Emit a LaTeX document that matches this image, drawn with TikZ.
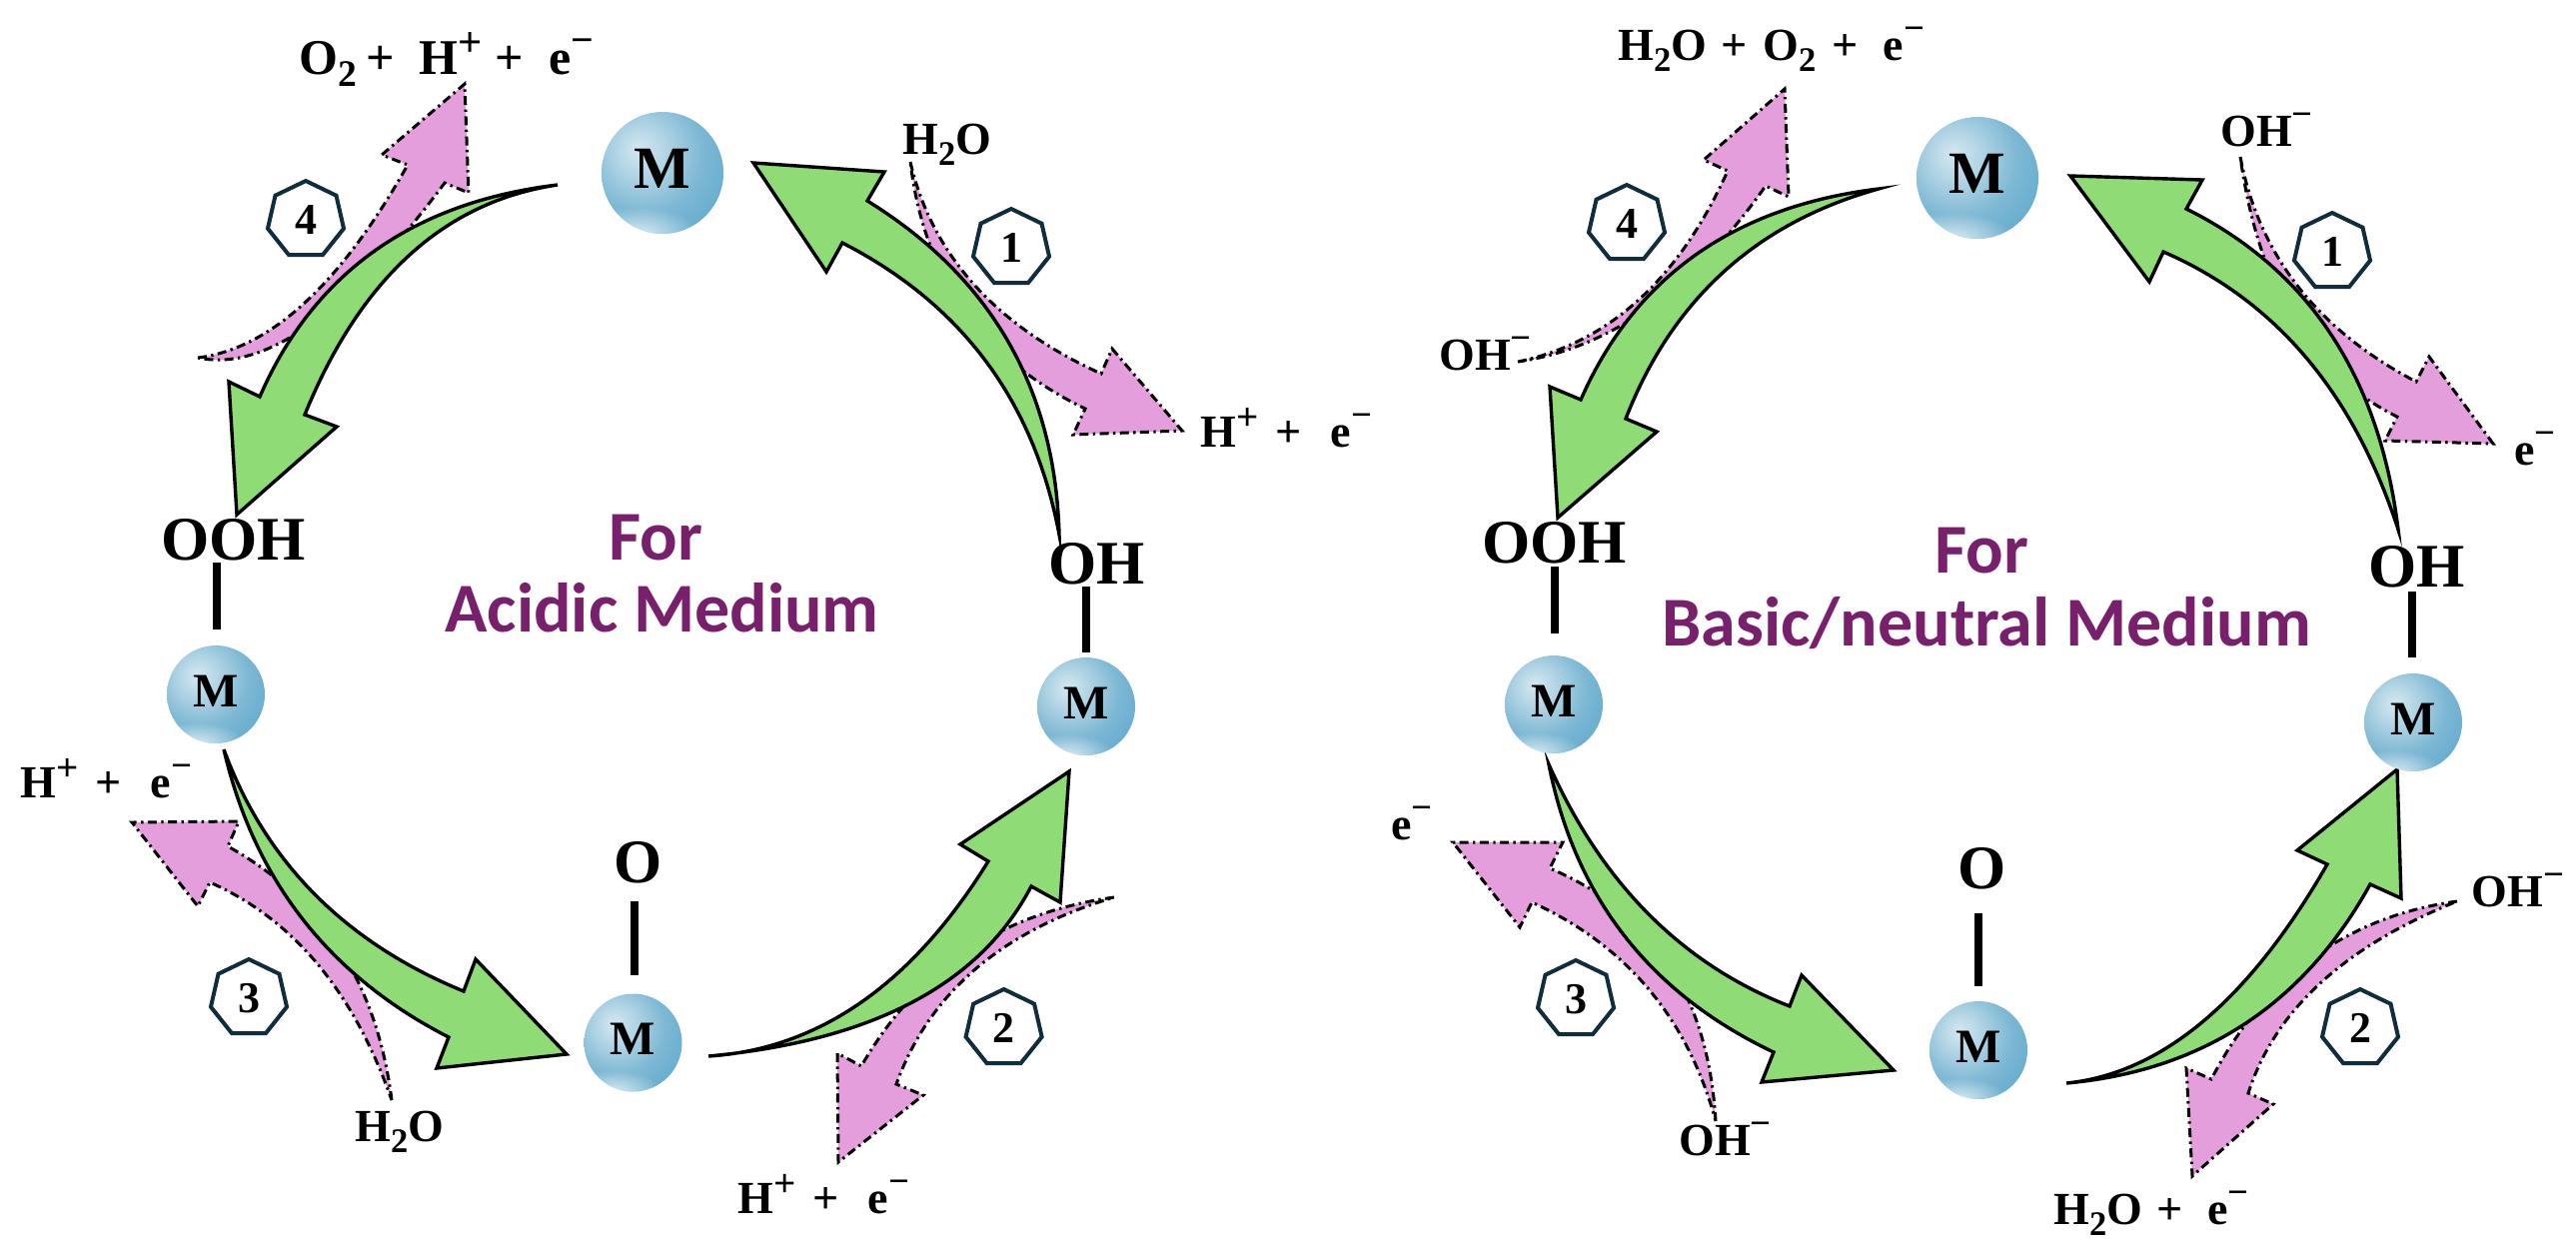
\documentclass[tikz,border=0pt]{standalone}
\usepackage{fontspec}
\setmainfont{Liberation Serif}
\newfontfamily\titlefont{Carlito}
\usetikzlibrary{shapes.geometric,calc,fadings}
\definecolor{greenfill}{HTML}{8FDB75}
\definecolor{pinkfill}{HTML}{E39EDB}
\definecolor{heptline}{HTML}{0F2D3C}
\definecolor{titlecol}{HTML}{78206B}
\definecolor{ballA}{HTML}{D5E8F2}
\definecolor{ballB}{HTML}{AFD3E4}
\definecolor{ballC}{HTML}{7DB8D4}
\definecolor{ballD}{HTML}{62AACD}
\definecolor{ballE}{HTML}{4298C2}
\pgfdeclareradialshading{mballsh}{\pgfpoint{-10bp}{10bp}}{color(0bp)=(ballA);color(11bp)=(ballB);color(24bp)=(ballC);color(38bp)=(ballD);color(50bp)=(ballE);color(100bp)=(ballE)}
\tikzfading[name=rimfade,inner color=transparent!25,outer color=transparent!100]
\newcommand{\upp}[1]{\raisebox{.36em}{\scalebox{.85}{#1}}}
\newcommand{\dwn}[1]{\raisebox{-.25em}{\scalebox{.75}{#1}}}
\newcommand{\mns}{\raisebox{.42em}{\scalebox{.8}{−}}}
% curve from A through M to B (a parabola written as a Bezier)
\newcommand{\qto}[3]{.. controls ($1.3333*(#2)-0.3333*(#3)$) and ($1.3333*(#2)-0.3333*(#1)$) .. (#3)}
\tikzset{
  greenarrow/.style={fill=greenfill,draw=black,line width=1.7pt,line join=miter,miter limit=14},
  pinkarrow/.style={fill=pinkfill,draw=black,line width=1.5pt,line join=miter,miter limit=14,dash pattern=on 4.5pt off 2.2pt on 1.2pt off 2.2pt},
  hept/.style={regular polygon,regular polygon sides=7,minimum size=39pt,inner sep=0pt,draw=heptline,line width=2pt,font=\bfseries\fontsize{22}{22}\selectfont},
  ball/.style={circle,inner sep=0pt,minimum size=#1 pt,shading=mballsh,
    path picture={\coordinate (rim) at ($(path picture bounding box.south west)!.3!(path picture bounding box.south east)$);
      \fill[white,path fading=rimfade] (rim) ellipse [x radius=#1*.5pt,y radius=#1*.22pt];}},
  bigM/.style={font=\bfseries\fontsize{30}{30}\selectfont},
  smallM/.style={font=\bfseries\fontsize{24}{24}\selectfont},
  bondbar/.style={line width=4pt},
  lbl/.style={anchor=base west,inner sep=0pt,font=\bfseries\fontsize{23}{23}\selectfont},
  toplbl/.style={anchor=base west,inner sep=0pt,font=\bfseries\fontsize{25}{25}\selectfont},
  biglbl/.style={anchor=base west,inner sep=0pt,font=\bfseries\fontsize{31}{31}\selectfont},
  titletxt/.style={anchor=base west,inner sep=0pt,text=titlecol,font=\titlefont\bfseries\fontsize{35}{35}\selectfont}
}
\begin{document}
\begin{tikzpicture}[x=0.5pt,y=-0.5pt]
\useasboundingbox (0,0) rectangle (2578,1255);
% ===== LEFT: pink arrows
\filldraw[pinkarrow] (198,358) \qto{198,358}{305,303}{408,165} -- (382,155) -- (465,84) -- (469,193) -- (445,183) \qto{445,183}{310,325}{198,358} -- cycle;
\filldraw[pinkarrow] (911,162) \qto{911,162}{975,285}{1102,374} -- (1113,349) -- (1183,431) -- (1074,435) -- (1086,409) \qto{1086,409}{965,310}{911,162} -- cycle;
\filldraw[pinkarrow] (392,1101) \qto{392,1101}{340,950}{228,847} -- (239,822) -- (132,823) -- (198,907) -- (210,883) \qto{210,883}{318,965}{392,1101} -- cycle;
\filldraw[pinkarrow] (1115,898) \qto{1115,898}{967,952}{862,1067} -- (838,1054) -- (839,1163) -- (924,1096) -- (897,1085) \qto{897,1085}{976,970}{1115,898} -- cycle;
% ===== LEFT: green arrows
\filldraw[greenarrow] (558,185) \qto{558,185}{375,251}{260,397} -- (229,382) -- (237,515) -- (337,427) -- (305,415) \qto{305,415}{410,255}{558,185} -- cycle;
\filldraw[greenarrow] (868,201) \qto{868,201}{1009,342}{1060,535} \qto{1060,535}{987,362}{843,243} -- (827,272) -- (754,163) -- (885,172) -- cycle;
\filldraw[greenarrow] (224,750) \qto{224,750}{315,895}{464,992} -- (476,960) -- (567,1055) -- (437,1069) -- (449,1038) \qto{449,1038}{303,920}{224,750} -- cycle;
\filldraw[greenarrow] (709,1057) \qto{709,1057}{862,1003}{989,862} -- (961,845) -- (1070,772) -- (1061,903) -- (1032,887) \qto{1032,887}{913,1003}{709,1057} -- cycle;
% ===== LEFT: balls and bonds
\node[ball=61,bigM] (Lm1) at (663,173) {\raisebox{4pt}{M}};
\node[ball=49,smallM] (Lm2) at (1087,707) {\raisebox{3.5pt}{M}};
\node[ball=49,smallM] (Lm3) at (633.5,1043.5) {\raisebox{3.5pt}{M}};
\node[ball=49,smallM] (Lm4) at (216,695) {\raisebox{3.5pt}{M}};
\node[biglbl] (Loh) at (1049,584) {OH};
\node[biglbl] (Lo) at (614,883) {O};
\node[biglbl] (Looh) at (161,560) {OOH};
\coordinate (Lb2a) at (1086.5,587); \coordinate (Lb2b) at (1086.5,653);
\coordinate (Lb3a) at (635,902); \coordinate (Lb3b) at (635,976);
\coordinate (Lb4a) at (217,563); \coordinate (Lb4b) at (217,630);
\draw[bondbar] (Lb2a) -- (Lb2b);
\draw[bondbar] (Lb3a) -- (Lb3b);
\draw[bondbar] (Lb4a) -- (Lb4b);
% ===== LEFT: step numbers
\node[hept] (Ls1) at (1012,248) {1};
\node[hept] (Ls2) at (1004.6,1029) {2};
\node[hept] (Ls3) at (249,999) {3};
\node[hept] (Ls4) at (306,220) {4};
% ===== LEFT: labels
\node[toplbl] (Lt1) at (299,74) {O\dwn{2}\hspace{.18em}+\hspace{.5em}H\upp{+}\hspace{.25em}+\hspace{.52em}e\mns};
\node[lbl] (Lt2) at (903,154) {H\dwn{2}O};
\node[lbl] (Lt3) at (1201,447) {H\upp{+}\hspace{.38em}+\hspace{.62em}e\mns};
\node[lbl] (Lt4) at (738,1214) {H\upp{+}\hspace{.38em}+\hspace{.62em}e\mns};
\node[lbl] (Lt5) at (355,1142) {H\dwn{2}O};
\node[lbl] (Lt6) at (20,798) {H\upp{+}\hspace{.38em}+\hspace{.62em}e\mns};
\node[titletxt] (LtA) at (609,560) {For};
\node[titletxt] (LtB) at (445,632) {Acidic Medium};
% ===== RIGHT: pink arrows
\filldraw[pinkarrow] (1519,362) \qto{1519,362}{1640,300}{1729,171} -- (1705,160) -- (1786,89) -- (1790,197) -- (1767,186) \qto{1767,186}{1650,308}{1519,362} -- cycle;
\filldraw[pinkarrow] (2242,157) \qto{2242,157}{2300,287}{2418,382} -- (2431,357) -- (2495,444) -- (2387,441) -- (2399,417) \qto{2399,417}{2295,320}{2242,157} -- cycle;
\filldraw[pinkarrow] (1717,1122) \qto{1717,1122}{1670,965}{1551,869} -- (1564,843) -- (1454,843) -- (1521,928) -- (1533,903) \qto{1533,903}{1650,990}{1717,1122} -- cycle;
\filldraw[pinkarrow] (2459,902) \qto{2459,902}{2315,958}{2213,1080} -- (2188,1069) -- (2194,1177) -- (2275,1105) -- (2250,1094) \qto{2250,1094}{2322,984}{2459,902} -- cycle;
% ===== RIGHT: green arrows
\filldraw[greenarrow] (1880,189) \qto{1880,189}{1697,255}{1582,400} -- (1551,387) -- (1559,518) -- (1658,432) -- (1627,419) \qto{1627,419}{1725,272}{1880,189} -- cycle;
\filldraw[greenarrow] (2188,209) \qto{2188,209}{2333,335}{2400,530} \qto{2400,530}{2308,358}{2165,252} -- (2151,282) -- (2072,176) -- (2204,180) -- cycle;
\filldraw[greenarrow] (1550,765) \qto{1550,765}{1650,915}{1791,1007} -- (1803,976) -- (1895,1071) -- (1763,1083) -- (1775,1053) \qto{1775,1053}{1626,937}{1550,765} -- cycle;
\filldraw[greenarrow] (2068,1084) \qto{2068,1084}{2205,1022}{2329,865} -- (2299,851) -- (2399,770) -- (2403,899) -- (2372,885) \qto{2372,885}{2246,1025}{2068,1084} -- cycle;
% ===== RIGHT: balls and bonds
\node[ball=61,bigM] (Rm1) at (1979,178) {\raisebox{4pt}{M}};
\node[ball=49,smallM] (Rm2) at (2415,723) {\raisebox{3.5pt}{M}};
\node[ball=49,smallM] (Rm3) at (1980,1051) {\raisebox{3.5pt}{M}};
\node[ball=49,smallM] (Rm4) at (1555,705) {\raisebox{3.5pt}{M}};
\node[biglbl] (Roh) at (2370,587) {OH};
\node[biglbl] (Ro) at (1959,889) {O};
\node[biglbl] (Rooh) at (1483,563) {OOH};
\coordinate (Rb2a) at (2414,592); \coordinate (Rb2b) at (2414,658);
\coordinate (Rb3a) at (1980,914); \coordinate (Rb3b) at (1980,987);
\coordinate (Rb4a) at (1556,567); \coordinate (Rb4b) at (1556,634);
\draw[bondbar] (Rb2a) -- (Rb2b);
\draw[bondbar] (Rb3a) -- (Rb3b);
\draw[bondbar] (Rb4a) -- (Rb4b);
% ===== RIGHT: step numbers
\node[hept] (Rs1) at (2334,252) {1};
\node[hept] (Rs2) at (2362,1029) {2};
\node[hept] (Rs3) at (1577,1000) {3};
\node[hept] (Rs4) at (1628,224) {4};
% ===== RIGHT: labels
\node[lbl] (Rt1) at (1619,60) {H\dwn{2}O\hspace{.3em}+\hspace{.35em}O\dwn{2}\hspace{.35em}+\hspace{.55em}e\mns};
\node[lbl] (Rt2) at (2222,146) {OH\mns};
\node[lbl] (Rt3) at (2516,465) {e\mns};
\node[lbl] (Rt4) at (2473,907) {OH\mns};
\node[lbl] (Rt5) at (2055,1225) {H\dwn{2}O\hspace{.3em}+\hspace{.55em}e\mns};
\node[lbl] (Rt6) at (1680,1156) {OH\mns};
\node[lbl] (Rt7) at (1392,840) {e\mns};
\node[lbl] (Rt8) at (1440,370) {OH\mns};
\node[titletxt] (RtA) at (1936,573) {For};
\node[titletxt] (RtB) at (1663,646) {Basic/neutral Medium};
\end{tikzpicture}
\end{document}
